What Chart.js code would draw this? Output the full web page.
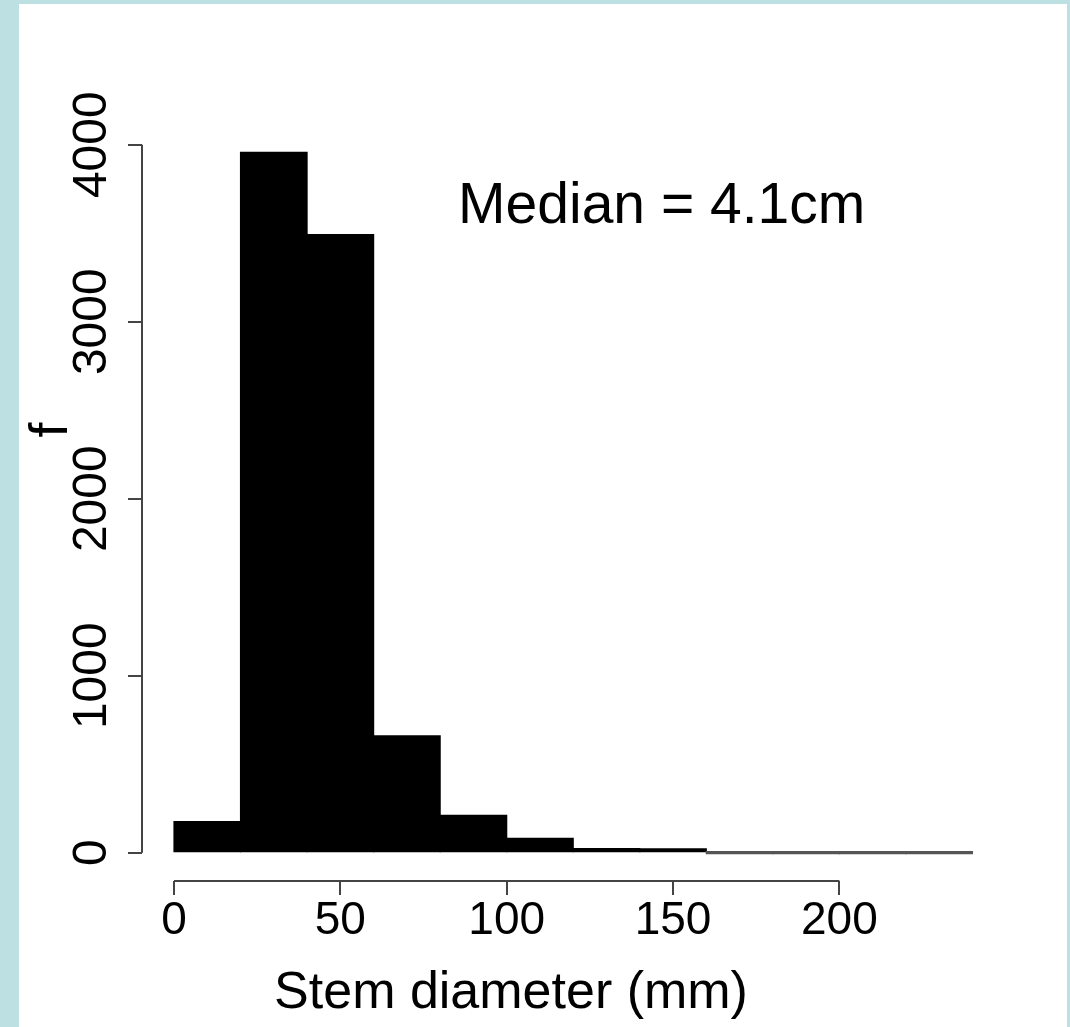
<!DOCTYPE html>
<html>
<head>
<meta charset="utf-8">
<title>Stem diameter histogram</title>
<script src="https://cdn.jsdelivr.net/npm/chart.js"></script>
<style>
  html, body { margin: 0; height: 100%; overflow: hidden; background: #bde0e3; }
  #panel { position: absolute; left: 19px; top: 4px; right: 3px; bottom: 0; background: #ffffff; }
  #histChart { position: absolute; left: 0; top: 0; }
</style>
</head>
<body>
<div id="panel"></div>
<canvas id="histChart" width="1070" height="1027"></canvas>
<script>
// Histogram bins (mm) and counts
const binWidth = 20;
const binStarts = [0, 20, 40, 60, 80, 100, 120, 140, 160, 180, 200, 220];
const counts = [175, 3957, 3492, 660, 211, 81, 23, 22, 0, 0, 0, 0];

// Axis ticks
const xTicks = [0, 50, 100, 150, 200];
const yTicks = [0, 1000, 2000, 3000, 4000];

// Texts
const xTitle = "Stem diameter (mm)";
const yTitle = "f";
const medianText = "Median = 4.1cm";
const medianPos = [85.4, 3558]; // in data units (mm, count)

const fontFamily = "'Liberation Sans', Arial, Helvetica, sans-serif";
const axisColor = "#444";

// R draws its axis lines only from first to last tick, plus the note and ylab
const rAxes = {
    id: "rAxes",
    afterDraw(chart) {
        const ctx = chart.ctx;
        const x = chart.scales.x;
        const y = chart.scales.y;
        const area = chart.chartArea;
        ctx.save();
        ctx.strokeStyle = axisColor;
        ctx.lineWidth = 2;
        ctx.beginPath();
        ctx.moveTo(area.left, y.getPixelForValue(yTicks[0]));
        ctx.lineTo(area.left, y.getPixelForValue(yTicks[yTicks.length - 1]));
        ctx.moveTo(x.getPixelForValue(xTicks[0]), area.bottom);
        ctx.lineTo(x.getPixelForValue(xTicks[xTicks.length - 1]), area.bottom);
        ctx.stroke();

        ctx.fillStyle = "#000";
        ctx.font = "57px " + fontFamily;
        ctx.textAlign = "left";
        ctx.textBaseline = "alphabetic";
        ctx.fillText(medianText, x.getPixelForValue(medianPos[0]), y.getPixelForValue(medianPos[1]));

        ctx.font = "54px " + fontFamily;
        ctx.translate(67, 430);
        ctx.rotate(-Math.PI / 2);
        ctx.textAlign = "center";
        ctx.fillText(yTitle, 0, 0);
        ctx.restore();
    }
};

const ctx = document.getElementById("histChart").getContext("2d");

new Chart(ctx, {
    type: "bar",
    data: {
        datasets: [{
            data: binStarts.map((start, i) => ({ x: start + binWidth / 2, y: counts[i] })),
            backgroundColor: (c) => (c.raw && c.raw.y === 0 ? "#555" : "#000"),
            borderWidth: 0,
            inflateAmount: 0.6,
            barPercentage: 1,
            categoryPercentage: 1,
            minBarLength: 2
        }]
    },
    options: {
        responsive: false,
        animation: false,
        devicePixelRatio: 1,
        layout: { padding: { left: 0, right: 48, top: 124, bottom: 0 } },
        plugins: {
            legend: { display: false },
            tooltip: { enabled: false },
            title: {
                display: true,
                text: xTitle,
                position: "bottom",
                color: "#000",
                font: { family: fontFamily, size: 52, weight: "normal", lineHeight: 1 },
                padding: { top: 0, bottom: 7 }
            }
        },
        scales: {
            x: {
                type: "linear",
                offset: false,
                min: -9.62,
                max: 254.9,
                afterBuildTicks: (s) => { s.ticks = xTicks.map(v => ({ value: v })); },
                afterFit: (s) => { s.height = 87; },
                grid: { drawOnChartArea: false, tickLength: 14, color: axisColor, lineWidth: 2, offset: false },
                border: { display: false },
                ticks: {
                    color: "#000",
                    padding: -1,
                    maxRotation: 0,
                    autoSkip: false,
                    font: { family: fontFamily, size: 46 },
                    callback: (v) => String(v)
                }
            },
            y: {
                min: -160,
                max: 4117,
                afterBuildTicks: (s) => { s.ticks = yTicks.map(v => ({ value: v })); },
                afterFit: (s) => { s.width = 142; },
                grid: { drawOnChartArea: false, tickLength: 14, color: axisColor, lineWidth: 2 },
                border: { display: false },
                ticks: {
                    color: "#000",
                    padding: -18,
                    minRotation: 90,
                    maxRotation: 90,
                    crossAlign: "center",
                    autoSkip: false,
                    font: { family: fontFamily, size: 48 },
                    callback: (v) => String(v)
                }
            }
        }
    },
    plugins: [rAxes]
});
</script>
</body>
</html>
